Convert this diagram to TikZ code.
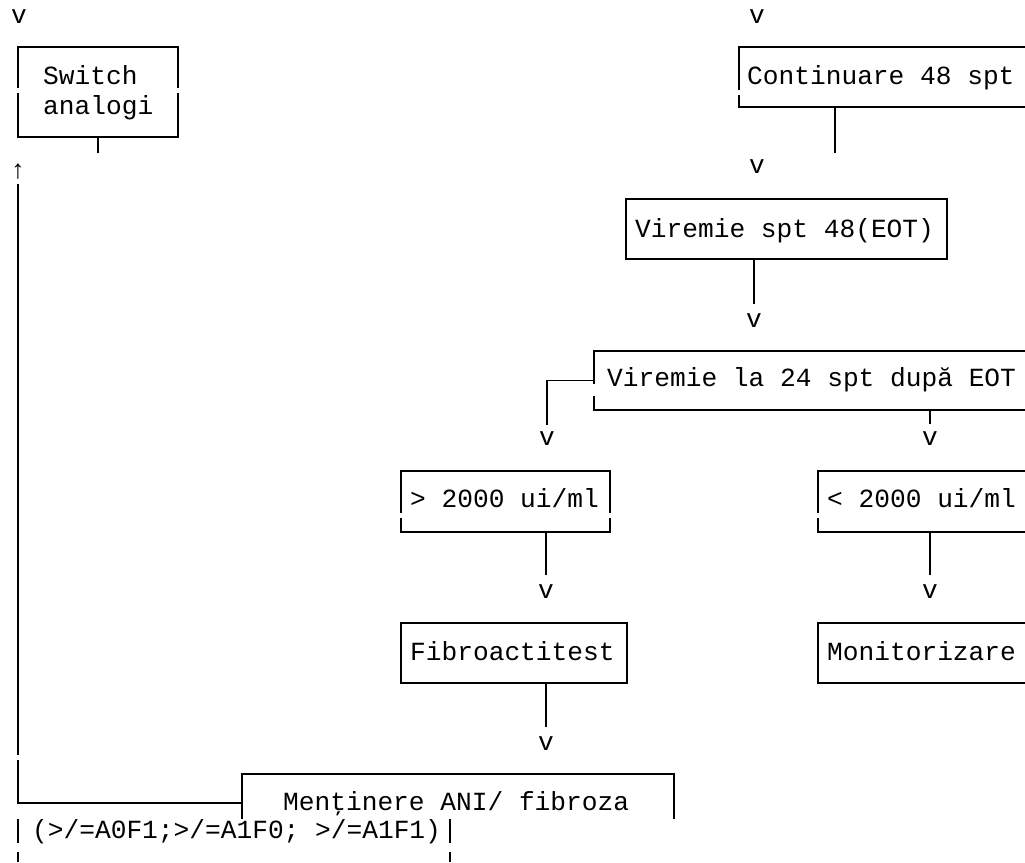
\documentclass[tikz,border=0pt]{standalone}
\usepackage{fontspec}
\newfontfamily\mono{Liberation Mono}
\begin{document}
\begin{tikzpicture}[x=1pt,y=-1pt,
  lbl/.style={font=\mono\fontsize{26.2}{30}\selectfont, inner sep=0pt, anchor=base west},
  tip/.style={font=\mono\fontsize{26.2}{30}\selectfont, inner sep=0pt, anchor=base},
  box/.style={draw, line width=1.8pt, inner sep=0pt, rectangle},
  link/.style={line width=1.8pt},
  gap/.style={draw=white, line width=3pt}]
\useasboundingbox (0,0) rectangle (1025,862);
\clip (0,0) rectangle (1025,862);

% ---- boxes ----
\node[box, minimum width=160, minimum height=90] (sw)   at (98,92) {};
\node[box, minimum width=306, minimum height=60] (cont) at (892,77) {};
\node[box, minimum width=321, minimum height=60] (v48)  at (786.5,229) {};
\node[box, minimum width=451, minimum height=59] (v24)  at (819.5,380.5) {};
\node[box, minimum width=209, minimum height=61] (gt)   at (505.5,501.5) {};
\node[box, minimum width=227, minimum height=61] (lt)   at (931.5,501.5) {};
\node[box, minimum width=226, minimum height=60] (fib)  at (514,653) {};
\node[box, minimum width=227, minimum height=60] (mon)  at (931.5,653) {};
\node[inner sep=0pt, minimum width=432, minimum height=45] (ment) at (458,796.5) {};
\draw[link] (ment.south west) |- (ment.north east) -- (ment.south east);

% ---- texts ----
\node[lbl] (tsw1)  at (43,84.5)   {Switch};
\node[lbl] (tsw2)  at (43,114.5)  {analogi};
\node[lbl] (tcont) at (747,84.5)  {Continuare 48 spt};
\node[lbl] (tv48)  at (635,237.5) {Viremie spt 48(EOT)};
\node[lbl] (tv24)  at (607,386.5) {Viremie la 24 spt după EOT};
\node[lbl] (tgt)   at (410,507.5) {> 2000 ui/ml};
\node[lbl] (tlt)   at (827,507.5) {< 2000 ui/ml};
\node[lbl] (tfib)  at (410,660.5) {Fibroactitest};
\node[lbl] (tmon)  at (827,660.5) {Monitorizare};
\node[lbl] (tment) at (283,810.5) {Menţinere ANI/ fibroza};
\node[lbl] (tcrit) at (32,838)    {(>/=A0F1;>/=A1F0; >/=A1F1)};

% ---- arrow heads ----
\node[tip] (h1) at (19,23.5)   {v};
\node[tip] (h2) at (757,23.5)  {v};
\node[tip] (h3) at (757,173.5) {v};
\node[tip] (h4) at (754,327.5) {v};
\node[tip] (h5) at (547,445.5) {v};
\node[tip] (h6) at (930,445.5) {v};
\node[tip] (h7) at (546,598.5) {v};
\node[tip] (h8) at (930,598.5) {v};
\node[tip] (h9) at (546,750.5) {v};
\node[tip] (up) at (18,178)    {↑};

% ---- connector ends ----
\coordinate (swstem)   at (98,153);
\coordinate (contstem) at (835,153);
\coordinate (v48stem)  at (754,304);
\coordinate (l24)      at (547,425);
\coordinate (r24)      at (930,424);
\coordinate (gtstem)   at (546,575);
\coordinate (ltstem)   at (930,575);
\coordinate (fibstem)  at (546,727);
\coordinate (loopA)    at (18,184);
\coordinate (mjoin)    at (242,803);

% ---- connectors ----
\draw[link] (sw.south -| swstem) -- (swstem);
\draw[link] (cont.south -| contstem) -- (contstem);
\draw[link] (v48.south -| v48stem) -- (v48stem);
\draw[link] (v24.west) -| (l24);
\draw[link] (v24.south -| r24) -- (r24);
\draw[link] (gt.south -| gtstem) -- (gtstem);
\draw[link] (lt.south -| ltstem) -- (ltstem);
\draw[link] (fib.south -| fibstem) -- (fibstem);
\draw[link] (loopA) |- (mjoin);

% ---- side bars of the criteria row ----
\coordinate (barL) at (18,819);
\coordinate (barR) at (450,819);
\draw[link] (barL) -- (18,862);
\draw[link] (barR) -- (450,862);

% ---- breaks between character cells ----
\draw[gap] (18,88) -- (18,93);
\draw[gap] (178,88) -- (178,93);
\draw[gap] (739,90) -- (739,95);
\draw[gap] (594,384) -- (594,396);
\draw[gap] (401,513) -- (401,518);
\draw[gap] (610,513) -- (610,518);
\draw[gap] (818,513) -- (818,518);
\draw[gap] (18,755) -- (18,760);
\draw[gap] (18,843) -- (18,852);
\draw[gap] (450,843) -- (450,852);
\end{tikzpicture}
\end{document}
